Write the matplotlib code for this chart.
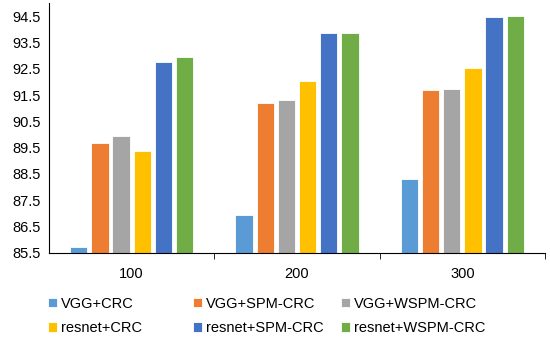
import numpy as np
import matplotlib.pyplot as plt

plt.rcParams['font.family'] = ['Liberation Sans', 'DejaVu Sans']

categories = ["100", "200", "300"]
series_names = ["VGG+CRC", "VGG+SPM-CRC", "VGG+WSPM-CRC",
                "resnet+CRC", "resnet+SPM-CRC", "resnet+WSPM-CRC"]
vgg_crc = [85.71, 86.93, 88.30]
vgg_spm = [89.68, 91.21, 91.69]
vgg_wspm = [89.95, 91.30, 91.73]
resnet_crc = [89.39, 92.03, 92.53]
resnet_spm = [92.76, 93.86, 94.46]
resnet_wspm = [92.93, 93.86, 94.51]
yticks = [85.5, 86.5, 87.5, 88.5, 89.5, 90.5, 91.5, 92.5, 93.5, 94.5]

colors = ["#5B9BD5", "#ED7D31", "#A5A5A5", "#FFC000", "#4472C4", "#70AD47"]
all_series = [vgg_crc, vgg_spm, vgg_wspm, resnet_crc, resnet_spm, resnet_wspm]

fig = plt.figure(figsize=(5.5, 3.39), dpi=100)
ax = fig.add_axes([0.089, 0.254, 0.902, 0.737])

x = np.arange(len(categories))
step = 0.128
width = 0.105
bars = []
for i, (vals, c, name) in enumerate(zip(all_series, colors, series_names)):
    pos = x + (i - 2.5) * step
    b = ax.bar(pos, np.array(vals) - 85.5, width, bottom=85.5, color=c,
               edgecolor="white", linewidth=0.6, label=name)
    bars.append(b)

ax.set_xlim(-0.5, 2.5)
ax.set_ylim(85.5, 95.0)
ax.set_yticks(yticks)
ax.set_yticklabels([f"{v:.1f}" for v in yticks], fontsize=10.5)
ax.set_xticks(x)
ax.set_xticklabels(categories, fontsize=10.5)
ax.set_xticks([0.5, 1.5, 2.5], minor=True)
ax.tick_params(axis="x", which="major", length=0, pad=10)
ax.tick_params(axis="x", which="minor", length=4, direction="out", color="black")
ax.tick_params(axis="y", length=0, pad=6)
for s in ["top", "right"]:
    ax.spines[s].set_visible(False)
ax.spines["left"].set_color("black")
ax.spines["bottom"].set_color("black")

# one legend per column so the columns have equal widths like in Excel
col_x = [0.063, 0.327, 0.596]
for col in range(3):
    idx = [col, col + 3]
    fig.legend([bars[i] for i in idx], [series_names[i] for i in idx],
               loc="lower left", bbox_to_anchor=(col_x[col], -0.027), ncol=1,
               frameon=False, fontsize=10.5, handlelength=0.6, handleheight=0.6,
               handletextpad=0.3, labelspacing=0.7)

plt.savefig("out.png", dpi=100)
